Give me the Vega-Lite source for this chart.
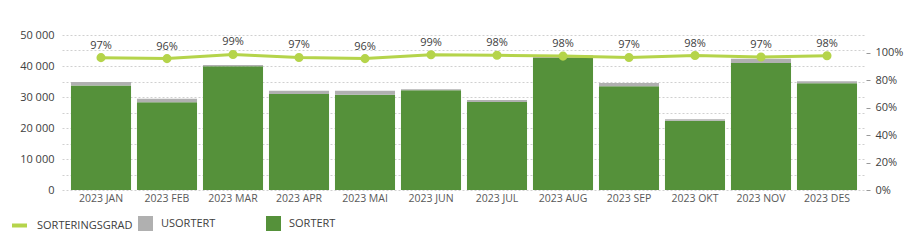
{
  "$schema": "https://vega.github.io/schema/vega-lite/v6.json",
  "width": 804,
  "height": 155,
  "autosize": {"type": "none"},
  "padding": {"left": 62, "top": 35, "right": 56, "bottom": 51},
  "config": {
    "font": "Open Sans",
    "view": {"stroke": null},
    "axis": {"labelFont": "Open Sans", "labelColor": "#404040", "labelFontSize": 11, "titleFontSize": 11},
    "legend": {"labelFont": "Open Sans", "labelColor": "#404040", "labelFontSize": 11}
  },
  "data": {
    "values": [
      {"month": "2023 JAN", "SORTERT": 33700, "USORTERT": 1100, "rate": 0.965},
      {"month": "2023 FEB", "SORTERT": 28300, "USORTERT": 1100, "rate": 0.958},
      {"month": "2023 MAR", "SORTERT": 39900, "USORTERT": 400, "rate": 0.988},
      {"month": "2023 APR", "SORTERT": 31000, "USORTERT": 1000, "rate": 0.966},
      {"month": "2023 MAI", "SORTERT": 30700, "USORTERT": 1300, "rate": 0.958},
      {"month": "2023 JUN", "SORTERT": 32150, "USORTERT": 350, "rate": 0.986},
      {"month": "2023 JUL", "SORTERT": 28400, "USORTERT": 600, "rate": 0.982},
      {"month": "2023 AUG", "SORTERT": 42600, "USORTERT": 900, "rate": 0.976},
      {"month": "2023 SEP", "SORTERT": 33500, "USORTERT": 1000, "rate": 0.966},
      {"month": "2023 OKT", "SORTERT": 22350, "USORTERT": 450, "rate": 0.98},
      {"month": "2023 NOV", "SORTERT": 41000, "USORTERT": 1300, "rate": 0.97},
      {"month": "2023 DES", "SORTERT": 34400, "USORTERT": 700, "rate": 0.979}
    ]
  },
  "encoding": {
    "x": {
      "field": "month",
      "type": "nominal",
      "sort": null,
      "title": null,
      "scale": {"paddingInner": 0.09, "paddingOuter": 0.136},
      "axis": {"labelAngle": 0, "domain": false, "ticks": false, "labelPadding": 3, "labelFontSize": 10.5, "labelColor": "#595959"}
    }
  },
  "layer": [
    {
      "transform": [{"fold": ["SORTERT", "USORTERT"], "as": ["type", "value"]}],
      "mark": {"type": "bar"},
      "encoding": {
        "y": {
          "field": "value",
          "type": "quantitative",
          "stack": "zero",
          "title": null,
          "scale": {"domain": [0, 50000], "nice": false},
          "axis": {
            "orient": "left",
            "values": [0, 5000, 10000, 15000, 20000, 25000, 30000, 35000, 40000, 45000, 50000],
            "ticks": false,
            "domain": false,
            "labelPadding": 8,
            "labelOverlap": false,
            "grid": true,
            "gridColor": "#d0d0d0",
            "gridDash": [2, 2],
            "labelExpr": "datum.value % 10000 == 0 ? replace(format(datum.value, ','), ',', ' ') : ''"
          }
        },
        "color": {
          "field": "type",
          "type": "nominal",
          "scale": {"domain": ["USORTERT", "SORTERT"], "range": ["#b0b0b0", "#55913a"]},
          "legend": {
            "orient": "none",
            "legendX": 76,
            "legendY": 181,
            "direction": "horizontal",
            "title": null,
            "symbolType": "square",
            "symbolSize": 225,
            "symbolStrokeWidth": 0,
            "labelOffset": 8,
            "columnPadding": 50
          }
        },
        "order": {"field": "type", "sort": "ascending"}
      }
    },
    {
      "layer": [
        {
          "mark": {"type": "line", "strokeWidth": 3, "point": {"filled": true, "fill": "#b5d44b", "size": 50}},
          "encoding": {
            "y": {
              "field": "rate",
              "type": "quantitative",
              "title": null,
              "scale": {"domain": [0, 1.13], "nice": false},
              "axis": {
                "orient": "right",
                "values": [0, 0.2, 0.4, 0.6, 0.8, 1.0],
                "format": ".0%",
                "domain": false,
                "grid": false,
                "ticks": true,
                "tickSize": 4,
                "tickColor": "#999999",
                "offset": 0,
                "labelPadding": 5,
                "labelOverlap": false
              }
            },
            "stroke": {
              "datum": "SORTERINGSGRAD",
              "scale": {"range": ["#b5d44b"]},
              "legend": {
                "orient": "none",
                "legendX": -52,
                "legendY": 181,
                "title": null,
                "symbolType": "stroke",
                "symbolSize": 225,
                "symbolStrokeWidth": 4,
                "labelOffset": 8
              }
            }
          }
        },
        {
          "mark": {"type": "text", "dy": -12, "fontSize": 11, "color": "#404040"},
          "encoding": {
            "y": {
              "field": "rate",
              "type": "quantitative",
              "title": null,
              "axis": {
                "orient": "right",
                "values": [0, 0.2, 0.4, 0.6, 0.8, 1.0],
                "format": ".0%",
                "domain": false,
                "grid": false,
                "ticks": true,
                "tickSize": 4,
                "tickColor": "#999999",
                "offset": 0,
                "labelPadding": 5,
                "labelOverlap": false
              }
            },
            "text": {"field": "rate", "format": ".0%"}
          }
        }
      ]
    }
  ],
  "resolve": {"scale": {"y": "independent"}}
}
